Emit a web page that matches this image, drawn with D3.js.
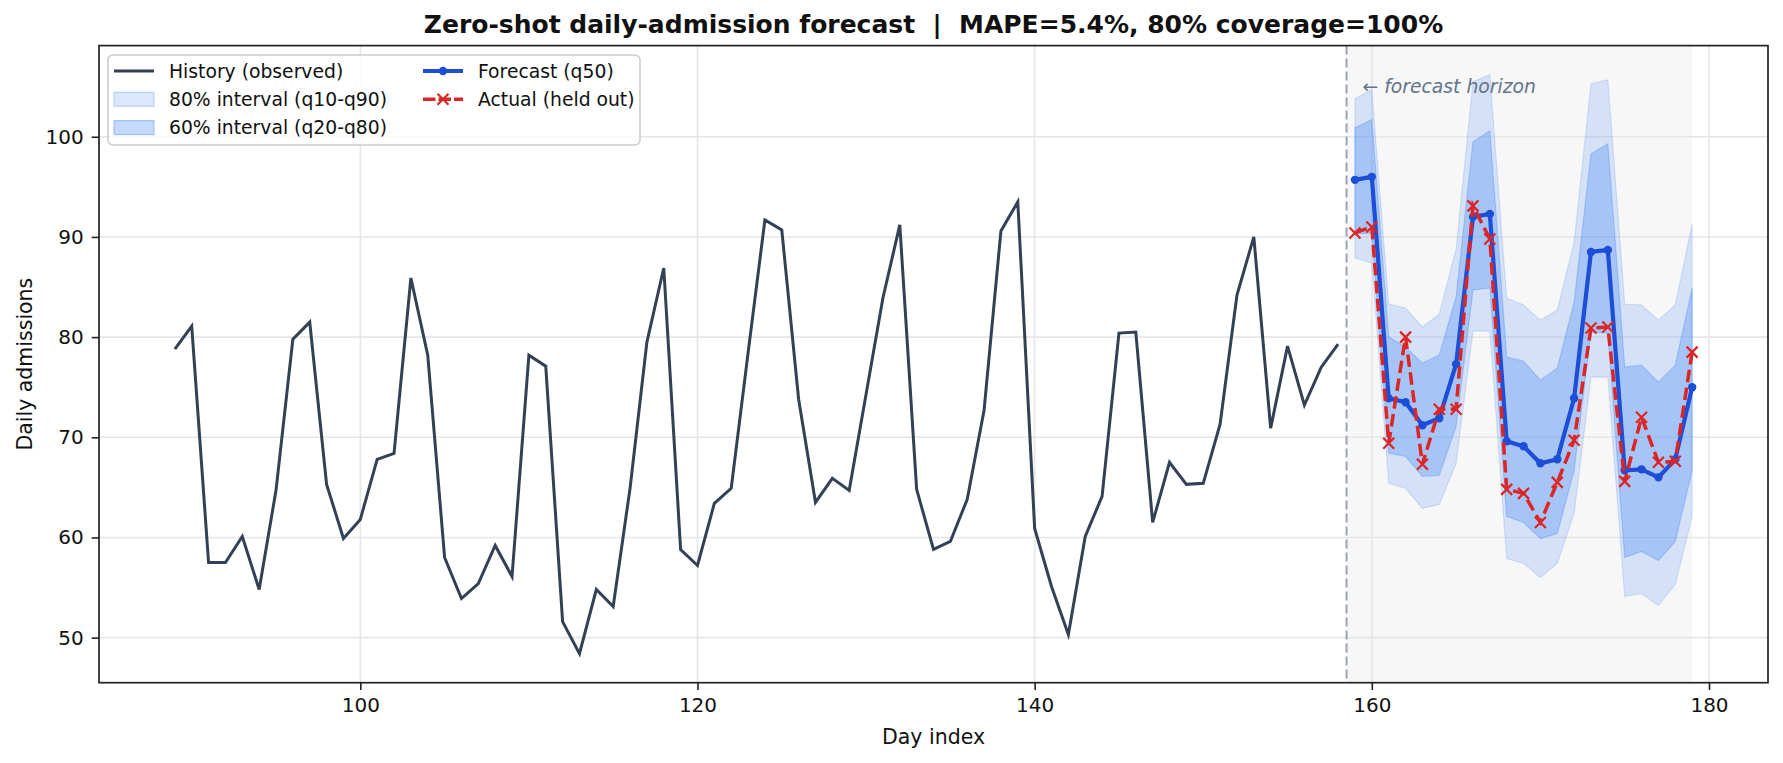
<html>
<head>
<script src="https://d3js.org/d3.v7.min.js"></script>
<style>
  body { margin: 0; background: #fff; }
  svg { display: block; font-family: "DejaVu Sans", sans-serif; }
</style>
</head>
<body>
<svg id="chart" width="1783" height="763"></svg>
<script>
// history (observed), days 89..158
var histStart = 89;
var histVals = [78.8, 81.1, 57.5, 57.5, 60.1, 54.8, 64.7, 79.8, 81.5, 65.3,
  59.9, 61.8, 67.8, 68.4, 85.9, 78.2, 58.0, 53.9, 55.4, 59.2,
  56.1, 78.2, 77.1, 51.6, 48.4, 54.8, 53.1, 64.9, 79.5, 86.9,
  58.8, 57.2, 63.4, 64.9, 78.4, 91.7, 90.7, 73.8, 63.5, 65.9,
  64.7, 74.3, 83.9, 91.2, 64.8, 58.8, 59.6, 63.8, 72.7, 90.6,
  93.5, 60.9, 55.1, 50.3, 60.1, 64.1, 80.4, 80.5, 61.5, 67.5,
  65.3, 65.4, 71.3, 84.2, 90.0, 70.9, 79.1, 73.2, 77.0, 79.3];

// forecast window, days 159..179
var fcStart = 159;
var q50 = [95.7, 96.0, 73.9, 73.5, 71.2, 71.9, 77.3, 92.0, 92.3, 69.6, 69.1, 67.4, 67.8, 73.9, 88.5, 88.7, 66.7, 66.8, 66.0, 67.8, 75.0];
var actual = [90.4, 91.0, 69.4, 80.0, 67.3, 72.8, 72.8, 93.1, 89.8, 64.8, 64.4, 61.5, 65.5, 69.7, 80.9, 81.0, 65.6, 72.0, 67.5, 67.6, 78.5];
var q90 = [103.8, 104.7, 83.3, 82.9, 81.0, 82.3, 88.8, 105.5, 106.2, 83.9, 83.2, 81.7, 82.7, 89.5, 105.3, 105.7, 83.3, 83.2, 81.7, 83.2, 91.3];
var q80 = [100.9, 101.7, 80.0, 79.0, 77.4, 78.2, 84.0, 99.5, 100.6, 78.0, 77.6, 75.7, 76.9, 83.5, 98.3, 99.3, 77.0, 77.2, 75.5, 77.2, 84.9];
var q20 = [90.3, 90.4, 68.4, 68.1, 66.1, 66.2, 71.1, 84.7, 84.9, 62.1, 61.5, 59.9, 60.4, 66.7, 80.5, 80.4, 58.0, 58.6, 57.7, 59.6, 66.7];
var q10 = [87.9, 87.4, 65.4, 64.9, 62.9, 63.3, 67.4, 80.6, 80.6, 57.9, 57.4, 56.0, 57.4, 62.4, 76.0, 76.0, 54.1, 54.4, 53.2, 55.3, 62.1];

var xTicks = [100, 120, 140, 160, 180];
var yTicks = [50, 60, 70, 80, 90, 100];
var cutoff = 158.5;

var titleText = "Zero-shot daily-admission forecast  |  MAPE=5.4%, 80% coverage=100%";

var cHist = "#334155", cBlue = "#1d4ed8", cRed = "#dc2626", cBand = "#3b82f6";

var svg = d3.select("#chart");
var L = 99, R = 1768, T = 45.6, B = 682.7;

var x = d3.scaleLinear().domain([84.5, 183.5]).range([L, R]);
var y = d3.scaleLinear().domain([45.5, 109.1]).range([B, T]);

var hist = histVals.map(function(v, i) { return {d: histStart + i, v: v}; });
var fc = q50.map(function(v, i) {
  return {d: fcStart + i, q50: v, act: actual[i], q10: q10[i], q20: q20[i], q80: q80[i], q90: q90[i]};
});

svg.append("defs").append("clipPath").attr("id", "clip")
  .append("rect").attr("x", L).attr("y", T).attr("width", R - L).attr("height", B - T);

var plot = svg.append("g").attr("clip-path", "url(#clip)");

// forecast window shading
plot.append("rect")
  .attr("x", x(cutoff)).attr("y", T)
  .attr("width", x(fcStart + q50.length - 1) - x(cutoff))
  .attr("height", B - T)
  .attr("fill", "#f7f7f7");

// grid
plot.selectAll(".gx").data(xTicks).enter().append("line")
  .attr("x1", function(d) { return x(d); }).attr("x2", function(d) { return x(d); })
  .attr("y1", T).attr("y2", B)
  .attr("stroke", "#e6e6e6").attr("stroke-width", 1.6);
plot.selectAll(".gy").data(yTicks).enter().append("line")
  .attr("y1", function(d) { return y(d); }).attr("y2", function(d) { return y(d); })
  .attr("x1", L).attr("x2", R)
  .attr("stroke", "#e6e6e6").attr("stroke-width", 1.6);

// bands
var area80 = d3.area().x(function(d) { return x(d.d); })
  .y0(function(d) { return y(d.q10); }).y1(function(d) { return y(d.q90); });
var area60 = d3.area().x(function(d) { return x(d.d); })
  .y0(function(d) { return y(d.q20); }).y1(function(d) { return y(d.q80); });

plot.append("path").datum(fc).attr("d", area80)
  .attr("fill", cBand).attr("fill-opacity", 0.18)
  .attr("stroke", cBand).attr("stroke-opacity", 0.18).attr("stroke-width", 1.2);
plot.append("path").datum(fc).attr("d", area60)
  .attr("fill", cBand).attr("fill-opacity", 0.3)
  .attr("stroke", cBand).attr("stroke-opacity", 0.3).attr("stroke-width", 1.2);

// cutoff line
plot.append("line")
  .attr("x1", x(cutoff)).attr("x2", x(cutoff)).attr("y1", T).attr("y2", B)
  .attr("stroke", "#9ca3af").attr("stroke-width", 2).attr("stroke-dasharray", "9,4");

// history
var line = d3.line().x(function(d) { return x(d.d); }).y(function(d) { return y(d.v); });
plot.append("path").datum(hist).attr("d", line)
  .attr("fill", "none").attr("stroke", cHist).attr("stroke-width", 3)
  .attr("stroke-linejoin", "miter");

// forecast median
var lineF = d3.line().x(function(d) { return x(d.d); }).y(function(d) { return y(d.q50); });
plot.append("path").datum(fc).attr("d", lineF)
  .attr("fill", "none").attr("stroke", cBlue).attr("stroke-width", 4.2);
plot.selectAll(".dot").data(fc).enter().append("circle")
  .attr("cx", function(d) { return x(d.d); }).attr("cy", function(d) { return y(d.q50); })
  .attr("r", 4.2).attr("fill", cBlue);

// actual held out
var lineA = d3.line().x(function(d) { return x(d.d); }).y(function(d) { return y(d.act); });
plot.append("path").datum(fc).attr("d", lineA)
  .attr("fill", "none").attr("stroke", cRed).attr("stroke-width", 3.5)
  .attr("stroke-dasharray", "12.5,5.5");
var xm = 5.5;
plot.selectAll(".xm").data(fc).enter().append("path")
  .attr("d", function(d) {
    var cx = x(d.d), cy = y(d.act);
    return "M" + (cx - xm) + "," + (cy - xm) + "L" + (cx + xm) + "," + (cy + xm) +
      "M" + (cx - xm) + "," + (cy + xm) + "L" + (cx + xm) + "," + (cy - xm);
  })
  .attr("stroke", cRed).attr("stroke-width", 2.2).attr("fill", "none");

// horizon note
svg.append("text")
  .attr("x", x(cutoff) + 16).attr("y", 93)
  .attr("font-size", 18.75).attr("font-style", "italic").attr("fill", "#64748b")
  .text("\u2190 forecast horizon");

// axes
var xAxis = svg.append("g").attr("transform", "translate(0," + B + ")")
  .call(d3.axisBottom(x).tickValues(xTicks).tickSize(7.3).tickPadding(8).tickFormat(d3.format("d")));
var yAxis = svg.append("g").attr("transform", "translate(" + L + ",0)")
  .call(d3.axisLeft(y).tickValues(yTicks).tickSize(7.3).tickPadding(8).tickFormat(d3.format("d")));
[xAxis, yAxis].forEach(function(a) {
  a.select(".domain").remove();
  a.selectAll("line").attr("stroke", "#222").attr("stroke-width", 1.6);
  a.selectAll("text").attr("font-size", 20).attr("fill", "#111")
    .attr("font-family", "DejaVu Sans");
});

// frame
svg.append("rect").attr("x", L).attr("y", T).attr("width", R - L).attr("height", B - T)
  .attr("fill", "none").attr("stroke", "#222").attr("stroke-width", 1.7);

// labels
svg.append("text").attr("x", (L + R) / 2).attr("y", 744)
  .attr("text-anchor", "middle").attr("font-size", 20.5).attr("fill", "#111")
  .text("Day index");
svg.append("text")
  .attr("transform", "translate(32," + ((T + B) / 2) + ") rotate(-90)")
  .attr("text-anchor", "middle").attr("font-size", 20.5).attr("fill", "#111")
  .text("Daily admissions");
svg.append("text").attr("x", (L + R) / 2).attr("y", 33)
  .attr("text-anchor", "middle").attr("font-size", 25).attr("font-weight", "bold")
  .attr("fill", "#111").style("white-space", "pre")
  .text(titleText);

// legend
var lg = svg.append("g");
lg.append("rect").attr("x", 108).attr("y", 55).attr("width", 532).attr("height", 90)
  .attr("rx", 5).attr("fill", "#fff").attr("fill-opacity", 0.8)
  .attr("stroke", "#cccccc").attr("stroke-width", 1.6);

var legendItems = [
  {label: "History (observed)", kind: "hist", col: 0, row: 0},
  {label: "80% interval (q10-q90)", kind: "b80", col: 0, row: 1},
  {label: "60% interval (q20-q80)", kind: "b60", col: 0, row: 2},
  {label: "Forecast (q50)", kind: "fc", col: 1, row: 0},
  {label: "Actual (held out)", kind: "act", col: 1, row: 1}
];
var colX = [114, 423], rowY = [71, 99.3, 127.6], hl = 40;

legendItems.forEach(function(it) {
  var x0 = colX[it.col], yc = rowY[it.row];
  var g = lg.append("g");
  if (it.kind === "hist") {
    g.append("line").attr("x1", x0).attr("x2", x0 + hl).attr("y1", yc).attr("y2", yc)
      .attr("stroke", cHist).attr("stroke-width", 3);
  } else if (it.kind === "b80" || it.kind === "b60") {
    var op = it.kind === "b80" ? 0.18 : 0.3;
    g.append("rect").attr("x", x0).attr("y", yc - 7).attr("width", hl).attr("height", 14)
      .attr("fill", cBand).attr("fill-opacity", op)
      .attr("stroke", cBand).attr("stroke-opacity", op + 0.1).attr("stroke-width", 1.2);
  } else if (it.kind === "fc") {
    g.append("line").attr("x1", x0).attr("x2", x0 + hl).attr("y1", yc).attr("y2", yc)
      .attr("stroke", cBlue).attr("stroke-width", 4.2);
    g.append("circle").attr("cx", x0 + hl / 2).attr("cy", yc).attr("r", 4.2).attr("fill", cBlue);
  } else {
    g.append("line").attr("x1", x0).attr("x2", x0 + hl).attr("y1", yc).attr("y2", yc)
      .attr("stroke", cRed).attr("stroke-width", 3.5).attr("stroke-dasharray", "12.5,3");
    var cx = x0 + hl / 2;
    g.append("path")
      .attr("d", "M" + (cx - xm) + "," + (yc - xm) + "L" + (cx + xm) + "," + (yc + xm) +
        "M" + (cx - xm) + "," + (yc + xm) + "L" + (cx + xm) + "," + (yc - xm))
      .attr("stroke", cRed).attr("stroke-width", 2.2);
  }
  g.append("text").attr("x", x0 + hl + 15).attr("y", yc + 6.5)
    .attr("font-size", 18.75).attr("fill", "#111").text(it.label);
});
</script>
</body>
</html>
